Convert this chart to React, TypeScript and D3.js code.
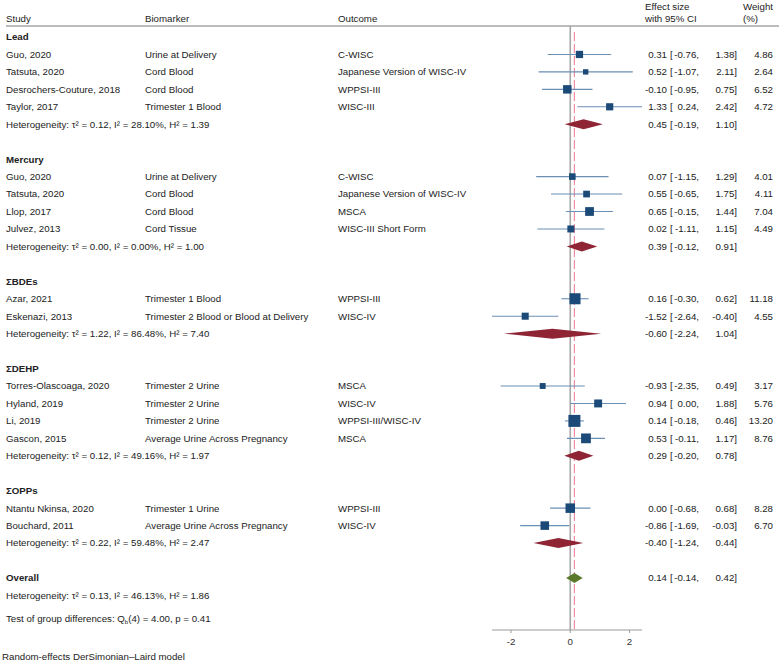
import React from "react";
import * as d3 from "d3";

// groups, studies and pooled results
const groupNames = ["Lead", "Mercury", "ΣBDEs", "ΣDEHP", "ΣOPPs"];

const studies = [
  ["Lead", "Guo, 2020", "Urine at Delivery", "C-WISC"],
  ["Lead", "Tatsuta, 2020", "Cord Blood", "Japanese Version of WISC-IV"],
  ["Lead", "Desrochers-Couture, 2018", "Cord Blood", "WPPSI-III"],
  ["Lead", "Taylor, 2017", "Trimester 1 Blood", "WISC-III"],
  ["Mercury", "Guo, 2020", "Urine at Delivery", "C-WISC"],
  ["Mercury", "Tatsuta, 2020", "Cord Blood", "Japanese Version of WISC-IV"],
  ["Mercury", "Llop, 2017", "Cord Blood", "MSCA"],
  ["Mercury", "Julvez, 2013", "Cord Tissue", "WISC-III Short Form"],
  ["ΣBDEs", "Azar, 2021", "Trimester 1 Blood", "WPPSI-III"],
  ["ΣBDEs", "Eskenazi, 2013", "Trimester 2 Blood or Blood at Delivery", "WISC-IV"],
  ["ΣDEHP", "Torres-Olascoaga, 2020", "Trimester 2 Urine", "MSCA"],
  ["ΣDEHP", "Hyland, 2019", "Trimester 2 Urine", "WISC-IV"],
  ["ΣDEHP", "Li, 2019", "Trimester 2 Urine", "WPPSI-III/WISC-IV"],
  ["ΣDEHP", "Gascon, 2015", "Average Urine Across Pregnancy", "MSCA"],
  ["ΣOPPs", "Ntantu Nkinsa, 2020", "Trimester 1 Urine", "WPPSI-III"],
  ["ΣOPPs", "Bouchard, 2011", "Average Urine Across Pregnancy", "WISC-IV"],
];
const effects = [0.31, 0.52, -0.10, 1.33, 0.07, 0.55, 0.65, 0.02, 0.16, -1.52, -0.93, 0.94, 0.14, 0.53, 0.00, -0.86];
const lower = [-0.76, -1.07, -0.95, 0.24, -1.15, -0.65, -0.15, -1.11, -0.30, -2.64, -2.35, 0.00, -0.18, -0.11, -0.68, -1.69];
const upper = [1.38, 2.11, 0.75, 2.42, 1.29, 1.75, 1.44, 1.15, 0.62, -0.40, 0.49, 1.88, 0.46, 1.17, 0.68, -0.03];
const weights = [4.86, 2.64, 6.52, 4.72, 4.01, 4.11, 7.04, 4.49, 11.18, 4.55, 3.17, 5.76, 13.20, 8.76, 8.28, 6.70];

const groupEffect = [0.45, 0.39, -0.60, 0.29, -0.40];
const groupLower = [-0.19, -0.12, -2.24, -0.20, -1.24];
const groupUpper = [1.10, 0.91, 1.04, 0.78, 0.44];
const groupHet = [
  "τ² = 0.12, I² = 28.10%, H² = 1.39",
  "τ² = 0.00, I² = 0.00%, H² = 1.00",
  "τ² = 1.22, I² = 86.48%, H² = 7.40",
  "τ² = 0.12, I² = 49.16%, H² = 1.97",
  "τ² = 0.22, I² = 59.48%, H² = 2.47",
];

const overall = { effect: 0.14, lower: -0.14, upper: 0.42, het: "τ² = 0.13, I² = 46.13%, H² = 1.86" };
const xTicks = [-2, 0, 2];

const W = 784;
const H = 664;
const FONT = "'Liberation Sans', Arial, Helvetica, sans-serif";
const FS = 9.7;
const TXT = "#222";

// plain hyphen minus, like the original
const fmt = d3.formatLocale({ decimal: ".", thousands: ",", grouping: [3], currency: ["", ""], minus: "-" }).format(".2f");

type Row =
  | { kind: "group"; label: string }
  | { kind: "study"; i: number }
  | { kind: "pooled"; g: number }
  | { kind: "blank" };

export default function App() {
  // build row list
  const rows: Row[] = [];
  groupNames.forEach((g, gi) => {
    rows.push({ kind: "group", label: g });
    studies.forEach((s, i) => {
      if (s[0] === g) rows.push({ kind: "study", i });
    });
    rows.push({ kind: "pooled", g: gi });
    rows.push({ kind: "blank" });
  });
  const overallRow = rows.length;

  const minX = d3.min([...lower, ...groupLower]) as number;
  const maxX = d3.max([...upper, ...groupUpper]) as number;
  const x = d3.scaleLinear().domain([minX, maxX]).range([492, 642]);
  const y = d3.scaleLinear().domain([0, 1]).range([37, 37 + 17.45]);
  const side = d3.scaleSqrt().domain([0, d3.max(weights) as number]).range([0, 12]);

  const axisY = 630;
  const headerY = 26;

  const colStudy = 6;
  const colBio = 145;
  const colOut = 338;
  const colEff = 667;
  const colBr = 670;
  const colLo = 699;
  const colHi = 737;
  const colW = 773;

  const numText = (yy: number, e: number, lo: number, hi: number, w?: number) => (
    <g>
      <text x={colEff} y={yy} dy="0.35em" textAnchor="end">{fmt(e)}</text>
      <text x={colBr} y={yy} dy="0.35em">[</text>
      <text x={colLo} y={yy} dy="0.35em" textAnchor="end">{fmt(lo)},</text>
      <text x={colHi} y={yy} dy="0.35em" textAnchor="end">{fmt(hi)}]</text>
      {w !== undefined && (
        <text x={colW} y={yy} dy="0.35em" textAnchor="end">{fmt(w)}</text>
      )}
    </g>
  );

  const diamond = (yy: number, e: number, lo: number, hi: number, fill: string) => {
    const p = d3.path();
    p.moveTo(x(lo), yy);
    p.lineTo(x(e), yy - 5);
    p.lineTo(x(hi), yy);
    p.lineTo(x(e), yy + 5);
    p.closePath();
    return <path d={p.toString()} fill={fill} />;
  };

  return (
    <svg
      width={W}
      height={H}
      style={{ position: "absolute", left: 0, top: 0, background: "#fff" }}
      fontFamily={FONT}
      fontSize={FS}
      fill={TXT}
    >
      {/* header */}
      <text x={colStudy} y={22}>Study</text>
      <text x={colBio} y={22}>Biomarker</text>
      <text x={colOut} y={22}>Outcome</text>
      <text x={645} y={10}>Effect size</text>
      <text x={645} y={22}>with 95% CI</text>
      <text x={743} y={10}>Weight</text>
      <text x={743} y={22}>(%)</text>
      <line x1={6} x2={779} y1={headerY} y2={headerY} stroke="#555" strokeWidth={0.8} />

      {/* reference lines */}
      <line x1={x(0)} x2={x(0)} y1={headerY} y2={axisY} stroke="#a6a6a6" strokeWidth={1.6} />
      <line
        x1={x(overall.effect)}
        x2={x(overall.effect)}
        y1={32}
        y2={axisY}
        stroke="#f08ca2"
        strokeWidth={1.2}
        strokeDasharray="9,3"
      />

      {rows.map((r, ri) => {
        const yy = y(ri);
        if (r.kind === "group") {
          return (
            <text key={ri} x={colStudy} y={yy} dy="0.35em" fontWeight="bold">{r.label}</text>
          );
        }
        if (r.kind === "study") {
          const s = studies[r.i];
          const sz = side(weights[r.i]);
          return (
            <g key={ri}>
              <text x={colStudy} y={yy} dy="0.35em">{s[1]}</text>
              <text x={colBio} y={yy} dy="0.35em">{s[2]}</text>
              <text x={colOut} y={yy} dy="0.35em">{s[3]}</text>
              <line x1={x(lower[r.i])} x2={x(upper[r.i])} y1={yy} y2={yy} stroke="#6b8fb5" strokeWidth={1.1} />
              <rect x={x(effects[r.i]) - sz / 2} y={yy - sz / 2} width={sz} height={sz} fill="#1c4a78" />
              {numText(yy, effects[r.i], lower[r.i], upper[r.i], weights[r.i])}
            </g>
          );
        }
        if (r.kind === "pooled") {
          return (
            <g key={ri}>
              <text x={colStudy} y={yy} dy="0.35em">Heterogeneity: {groupHet[r.g]}</text>
              {diamond(yy, groupEffect[r.g], groupLower[r.g], groupUpper[r.g], "#8e2434")}
              {numText(yy, groupEffect[r.g], groupLower[r.g], groupUpper[r.g])}
            </g>
          );
        }
        return null;
      })}

      {/* overall */}
      <text x={colStudy} y={y(overallRow)} dy="0.35em" fontWeight="bold">Overall</text>
      {diamond(y(overallRow), overall.effect, overall.lower, overall.upper, "#5b7a2c")}
      {numText(y(overallRow), overall.effect, overall.lower, overall.upper)}
      <text x={colStudy} y={y(overallRow + 1)} dy="0.35em">Heterogeneity: {overall.het}</text>
      <text x={colStudy} y={y(overallRow + 2.35)} dy="0.35em">
        Test of group differences: Q<tspan fontSize={6} dy={2}>b</tspan><tspan dy={-2}>(4) = 4.00, p = 0.41</tspan>
      </text>

      {/* x axis */}
      <line x1={x.range()[0]} x2={x.range()[1]} y1={axisY} y2={axisY} stroke="#9a9a9a" strokeWidth={1.2} />
      {xTicks.map((t) => (
        <g key={t}>
          <line x1={x(t)} x2={x(t)} y1={axisY} y2={axisY + 3} stroke="#9a9a9a" strokeWidth={1} />
          <text x={x(t)} y={axisY + 12} dy="0.35em" textAnchor="middle" fill="#333">{fmt(t).replace(".00", "")}</text>
        </g>
      ))}

      <text x={2} y={657} dy="0.35em">Random-effects DerSimonian–Laird model</text>
    </svg>
  );
}
